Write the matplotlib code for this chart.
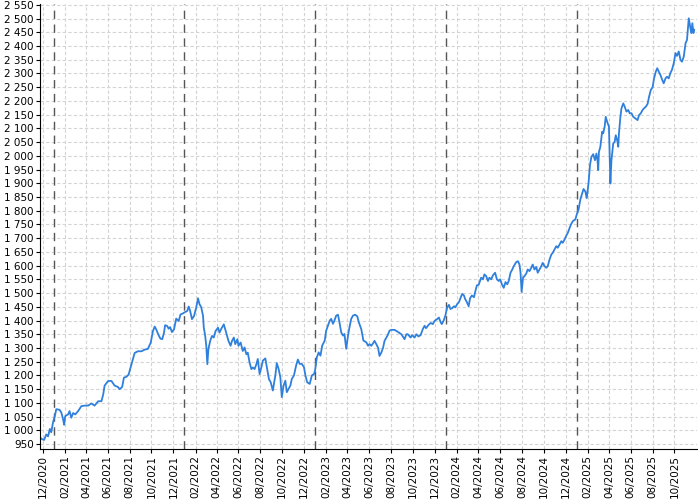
import numpy as np
import pandas as pd
import matplotlib
matplotlib.use("Agg")
import matplotlib.pyplot as plt
from matplotlib.ticker import FuncFormatter

# all days are counted from 2020-12-01
start = pd.Timestamp("2020-12-01")

day_2020 = [-4, -2, 4, 10, 15, 20, 24, 29]
close_2020 = [970, 968, 965, 985, 978, 1005, 993, 1030]

day_2021 = [34, 38, 47, 52, 57, 60, 63, 71, 75, 80, 85, 91, 99, 108, 117, 127,
            136, 145, 155, 164, 169, 173, 183, 192, 201, 210, 215, 222, 227, 234,
            240, 248, 257, 266, 276, 285, 294, 302, 308, 313, 317, 324, 329, 334,
            339, 342, 348, 352, 356, 361, 367, 373, 380, 385, 392]
close_2021 = [1052, 1077, 1075, 1065, 1040, 1020, 1052, 1058, 1070, 1046, 1063, 1058,
              1070, 1088, 1090, 1090, 1098, 1090, 1106, 1106, 1130, 1163, 1180, 1180,
              1163, 1158, 1150, 1158, 1192, 1195, 1203, 1240, 1282, 1288, 1288, 1294,
              1297, 1320, 1362, 1378, 1368, 1346, 1334, 1332, 1356, 1383, 1380, 1370,
              1376, 1358, 1368, 1407, 1398, 1422, 1426]

day_2022 = [398, 404, 408, 412, 417, 423, 429, 434, 438, 443, 448, 450, 454, 457,
            460, 463, 468, 473, 478, 483, 490, 494, 499, 506, 510, 515, 519, 525,
            529, 534, 538, 544, 547, 553, 559, 564, 569, 573, 578, 583, 587, 592,
            597, 601, 606, 611, 615, 622, 627, 632, 637, 643, 650, 654, 659, 664,
            668, 673, 678, 682, 687, 692, 696, 702, 708, 713, 718, 724, 730, 734,
            739, 746, 752, 758]
close_2022 = [1431, 1435, 1451, 1435, 1405, 1417, 1448, 1481, 1460, 1448, 1417, 1375,
              1344, 1308, 1241, 1296, 1326, 1344, 1338, 1362, 1374, 1356, 1370, 1386,
              1368, 1344, 1326, 1308, 1326, 1338, 1314, 1332, 1308, 1320, 1289, 1302,
              1277, 1283, 1247, 1223, 1229, 1223, 1241, 1260, 1205, 1230, 1254, 1262,
              1224, 1187, 1175, 1145, 1200, 1245, 1224, 1193, 1121, 1163, 1181, 1139,
              1151, 1163, 1187, 1200, 1236, 1258, 1242, 1242, 1230, 1200, 1175, 1169,
              1200, 1205]

day_2023 = [761, 766, 771, 776, 781, 788, 792, 797, 802, 806, 811, 815, 820, 825,
            829, 834, 839, 843, 848, 853, 857, 862, 867, 873, 879, 883, 890, 896,
            904, 909, 913, 918, 923, 927, 932, 937, 941, 946, 951, 955, 960, 964,
            969, 974, 983, 992, 1002, 1006, 1011, 1016, 1020, 1028, 1032, 1039,
            1044, 1050, 1056, 1062, 1067, 1071, 1078, 1084, 1090, 1095, 1102, 1107,
            1112, 1115, 1120, 1125]
close_2023 = [1218, 1266, 1284, 1272, 1309, 1327, 1363, 1381, 1400, 1406, 1388, 1400,
              1418, 1421, 1394, 1357, 1345, 1351, 1297, 1345, 1375, 1406, 1418, 1421,
              1415, 1394, 1369, 1327, 1321, 1308, 1314, 1308, 1317, 1326, 1314, 1301,
              1271, 1283, 1301, 1326, 1338, 1347, 1363, 1366, 1366, 1359, 1350, 1342,
              1332, 1350, 1350, 1338, 1347, 1338, 1350, 1342, 1347, 1369, 1381, 1372,
              1384, 1391, 1387, 1399, 1405, 1411, 1393, 1387, 1399, 1418]

day_2024 = [1130, 1135, 1139, 1144, 1149, 1153, 1158, 1163, 1167, 1172, 1177, 1180,
            1185, 1190, 1194, 1199, 1205, 1208, 1213, 1218, 1225, 1230, 1234, 1239,
            1244, 1248, 1253, 1258, 1264, 1269, 1274, 1278, 1283, 1288, 1293, 1298,
            1302, 1307, 1312, 1316, 1323, 1328, 1332, 1335, 1338, 1342, 1346, 1351,
            1355, 1360, 1365, 1369, 1374, 1379, 1383, 1388, 1393, 1397, 1402, 1407,
            1411, 1416, 1421, 1425, 1430, 1435, 1439, 1444, 1449, 1453, 1458, 1463,
            1467, 1472, 1476, 1481, 1488]
close_2024 = [1448, 1457, 1442, 1445, 1452, 1448, 1460, 1467, 1481, 1497, 1491, 1479,
              1467, 1452, 1481, 1491, 1485, 1503, 1528, 1530, 1556, 1550, 1568, 1562,
              1544, 1556, 1550, 1565, 1574, 1550, 1544, 1550, 1532, 1519, 1540, 1532,
              1544, 1574, 1586, 1598, 1613, 1616, 1604, 1574, 1504, 1556, 1562, 1571,
              1586, 1580, 1592, 1604, 1586, 1595, 1574, 1586, 1598, 1610, 1598, 1592,
              1598, 1622, 1640, 1647, 1659, 1671, 1665, 1677, 1689, 1683, 1695, 1710,
              1719, 1737, 1750, 1762, 1768]

day_2025 = [1492, 1497, 1502, 1506, 1511, 1516, 1520, 1525, 1529, 1533, 1538, 1543,
            1547, 1550, 1552, 1554, 1558, 1563, 1566, 1570, 1573, 1577, 1582, 1584,
            1586, 1589, 1594, 1598, 1601, 1605, 1608, 1610, 1614, 1617, 1622, 1626,
            1631, 1636, 1640, 1645, 1650, 1656, 1662, 1666, 1671, 1676, 1680, 1685,
            1690, 1694, 1699, 1704, 1708, 1713, 1717, 1721, 1726, 1731, 1735, 1740,
            1744, 1749, 1754, 1758, 1763, 1768, 1772, 1777, 1782, 1786, 1791, 1796,
            1800, 1805, 1809, 1812, 1815, 1818, 1820]
close_2025 = [1786, 1804, 1840, 1858, 1879, 1870, 1846, 1901, 1966, 1996, 2006, 1984,
              2008, 1984, 1948, 2014, 2033, 2088, 2082, 2106, 2142, 2124, 2106, 1996,
              1899, 1984, 2045, 2051, 2075, 2057, 2033, 2082, 2142, 2173, 2191, 2179,
              2161, 2167, 2155, 2155, 2142, 2136, 2130, 2148, 2155, 2167, 2173, 2179,
              2189, 2215, 2240, 2250, 2282, 2307, 2319, 2307, 2294, 2276, 2264, 2282,
              2288, 2282, 2303, 2313, 2337, 2374, 2364, 2380, 2349, 2343, 2361, 2410,
              2422, 2501, 2471, 2447, 2483, 2447, 2459]

year_marks = [2021, 2022, 2023, 2024, 2025]

days = day_2020 + day_2021 + day_2022 + day_2023 + day_2024 + day_2025
close = close_2020 + close_2021 + close_2022 + close_2023 + close_2024 + close_2025
dates = start + pd.to_timedelta(days, unit="D")

fig = plt.figure(figsize=(7, 5), dpi=100)
ax = fig.add_axes([40 / 700, 51 / 500, 657 / 700, 445 / 500])

ax.grid(True, color="#d4d4d4", linestyle=(0, (3, 2)), linewidth=0.8)
ax.set_axisbelow(True)

for yr in year_marks:
    ax.axvline(pd.Timestamp(f"{yr}-01-01"), color="#555555",
               linestyle=(0, (6, 4)), linewidth=1)

ax.plot(dates, close, color="#2f80dc", linewidth=1.3)

ax.set_xlim(start - pd.Timedelta(days=7.5), start + pd.Timedelta(days=1828))
ax.set_ylim(932, 2553)

ax.set_yticks(np.arange(950, 2551, 50))
ax.yaxis.set_major_formatter(FuncFormatter(lambda v, p: f"{int(v):,}".replace(",", " ")))

xt = pd.date_range("2020-12-01", "2025-10-01", freq="2MS")
ax.set_xticks(xt)
ax.set_xticklabels([d.strftime("%m/%Y") for d in xt], rotation=90)

for s in ["top", "right"]:
    ax.spines[s].set_visible(False)
ax.tick_params(labelsize=7.5, length=3, width=0.8, pad=1.5)

fig.savefig("out.png", dpi=100)
